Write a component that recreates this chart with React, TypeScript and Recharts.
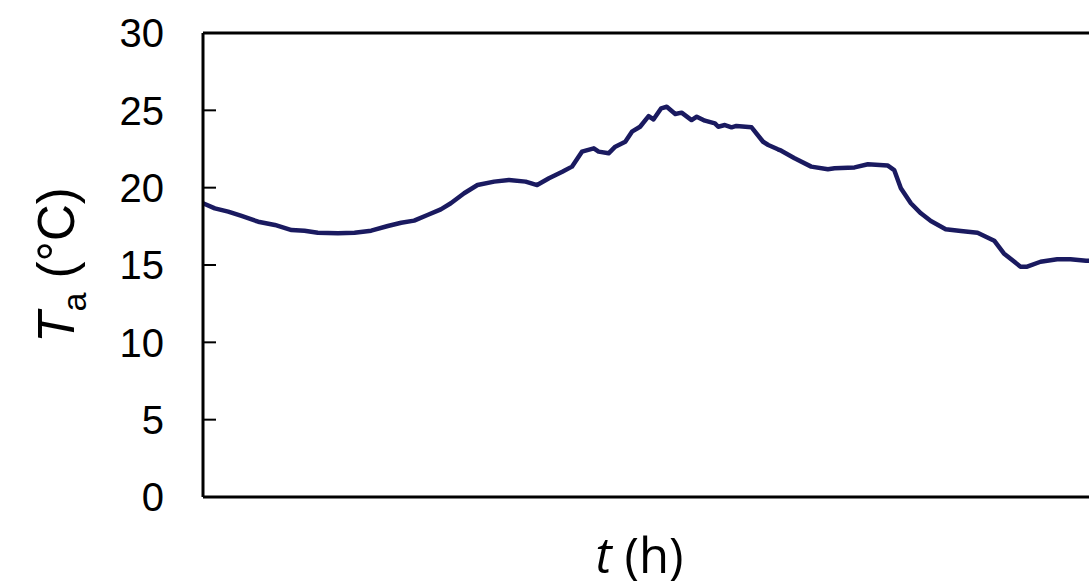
import React from 'react';
import {
  LineChart,
  Line,
  XAxis,
  YAxis,
  Label,
  ReferenceLine,
} from 'recharts';

// hours since start of the record
const TIME_H = [
  0, 0.32, 0.68, 1.04, 1.49, 1.94, 2.39, 2.74, 3.1, 3.64, 4.09, 4.54, 4.99, 5.35,
  5.7, 6.06, 6.42, 6.69, 7.05, 7.41, 7.86, 8.26, 8.71, 9.02, 9.34, 9.7, 9.96,
  10.23, 10.55, 10.68, 10.95, 11.13, 11.4, 11.58, 11.8, 12.03, 12.16, 12.37,
  12.52, 12.75, 12.92, 13.19, 13.33, 13.55, 13.82, 13.91, 14.09, 14.27, 14.4,
  14.81, 15.12, 15.26, 15.52, 15.61, 15.97, 16.42, 16.87, 17.05, 17.59, 17.95,
  18.48, 18.66, 18.84, 19.11, 19.38, 19.65, 20.05, 20.46, 20.91, 21.36, 21.62,
  22.07, 22.25, 22.61, 23.06, 23.42, 23.84, 24,
];

// air temperature (°C)
const TEMP_C = [
  18.99, 18.66, 18.45, 18.17, 17.8, 17.59, 17.26, 17.22, 17.09, 17.05, 17.09,
  17.22, 17.52, 17.73, 17.87, 18.23, 18.6, 18.99, 19.64, 20.17, 20.39, 20.5,
  20.39, 20.17, 20.61, 21.03, 21.36, 22.33, 22.54, 22.33, 22.22, 22.65, 22.97,
  23.62, 23.94, 24.63, 24.41, 25.13, 25.23, 24.76, 24.85, 24.37, 24.59, 24.33,
  24.16, 23.94, 24.05, 23.9, 23.99, 23.9, 22.97, 22.76, 22.48, 22.39, 21.9,
  21.36, 21.19, 21.25, 21.31, 21.51, 21.44, 21.14, 19.96, 18.99, 18.34, 17.84,
  17.31, 17.2, 17.09, 16.57, 15.75, 14.89, 14.89, 15.21, 15.37, 15.37, 15.28,
  15.28,
];

const Y_TICKS = [0, 5, 10, 15, 20, 25, 30];

const data = TIME_H.map((t, i) => ({ t, temp: TEMP_C[i] }));

const YTitle = (props: any) => {
  const { viewBox } = props;
  const x = viewBox.x + 74;
  const y = viewBox.y + viewBox.height / 2;
  return (
    <text
      x={x}
      y={y}
      transform={`rotate(-90, ${x}, ${y})`}
      textAnchor="middle"
      fontFamily="'Liberation Sans', Arial, sans-serif"
      fontSize={51}
      fill="#000"
    >
      <tspan fontStyle="italic">T</tspan>
      <tspan fontSize={34} dy={12}>a</tspan>
      <tspan dy={-12}>{' (°C)'}</tspan>
    </text>
  );
};

const XTitle = (props: any) => {
  const { viewBox } = props;
  const x = viewBox.x + viewBox.width / 2 - 8;
  const y = viewBox.y + 76;
  return (
    <text
      x={x}
      y={y}
      textAnchor="middle"
      fontFamily="'Open Sans', sans-serif"
      fontSize={49}
      fill="#000"
    >
      <tspan fontStyle="italic">t</tspan>
      <tspan>{' (h)'}</tspan>
    </text>
  );
};

export default function App() {
  return (
    <div
      style={{
        position: 'fixed',
        left: 0,
        top: 0,
        width: 1089,
        height: 586,
        overflow: 'hidden',
        background: '#fff',
      }}
    >
      <LineChart
        width={1100}
        height={586}
        data={data}
        margin={{ top: 33, right: 8, left: 0, bottom: 0 }}
      >
        <XAxis
          dataKey="t"
          type="number"
          domain={[0, 24]}
          tick={false}
          tickLine={false}
          height={89}
          axisLine={{ stroke: '#000', strokeWidth: 3 }}
        >
          <Label content={<XTitle />} />
        </XAxis>
        <YAxis
          type="number"
          domain={[0, 30]}
          ticks={Y_TICKS}
          width={203}
          tickSize={-13}
          tickMargin={52}
          axisLine={{ stroke: '#000', strokeWidth: 3 }}
          tickLine={{ stroke: '#000', strokeWidth: 2 }}
          tick={{
            fill: '#000',
            fontSize: 40,
            fontFamily: "'Liberation Sans', Arial, sans-serif",
          }}
        >
          <Label content={<YTitle />} />
        </YAxis>
        <ReferenceLine y={30} stroke="#000" strokeWidth={3} />
        <Line
          type="linear"
          dataKey="temp"
          stroke="#1a1a60"
          strokeWidth={4.5}
          strokeLinejoin="round"
          dot={false}
          isAnimationActive={false}
        />
      </LineChart>
    </div>
  );
}
